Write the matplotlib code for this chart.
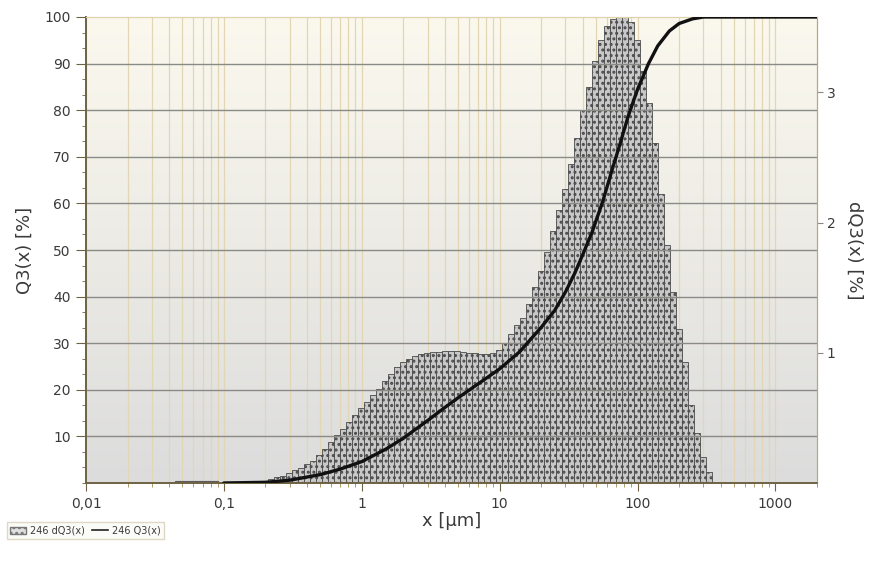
"""Particle size distribution: dQ3 histogram (right axis) and Q3 cumulative curve (left axis)."""

import matplotlib
matplotlib.use("Agg")
import matplotlib.pyplot as plt
import numpy as np
from matplotlib.lines import Line2D
from matplotlib.patches import Patch

plt.rcParams["font.family"] = ["DejaVu Sans"]
plt.rcParams["hatch.linewidth"] = 1.4

# histogram channels: first edge (µm), log width of one channel (decades)
FIRST_EDGE = 0.17
CHANNEL_DEC = 0.0435
# dQ3 per channel, read as % of plot height (100 = 3.58 % dQ3)
DQ3_PCT_OF_AXIS = [
    0.3, 0.5, 0.8, 1.2, 1.6, 2.1, 2.7, 3.3, 4.0, 4.8,
    6.0, 7.4, 8.8, 10.2, 11.6, 13.0, 14.5, 16.0, 17.4, 18.8,
    20.2, 21.8, 23.3, 24.8, 26.0, 26.7, 27.2, 27.6, 27.9, 28.1,
    28.2, 28.3, 28.3, 28.3, 28.2, 28.0, 27.8, 27.6, 27.6, 27.8,
    28.5, 30.0, 32.0, 33.8, 35.5, 38.5, 42.0, 45.5, 49.5, 54.0,
    58.5, 63.0, 68.5, 74.0, 80.0, 85.0, 90.5, 95.0, 98.0, 99.5,
    100.0, 100.0, 99.0, 95.0, 88.5, 81.5, 73.0, 62.0, 51.0, 41.0,
    33.0, 26.0, 16.7, 10.7, 5.6, 2.4,
]
DQ3_TOP = 3.58
# tiny fine-fraction channel
FINE_EDGES = [0.044, 0.09]
FINE_DQ3 = 0.012

# cumulative curve Q3(x)
Q3_X = [0.1, 0.2, 0.3, 0.5, 0.7, 1.0, 1.5, 2.0, 3.0, 4.0, 5.0, 7.0, 10, 14, 20, 25,
        30, 35, 40, 47, 56, 65, 75, 85, 100, 120, 140, 170, 200, 250, 300, 2000]
Q3_Y = [0, 0.15, 0.6, 1.8, 3.0, 4.6, 7.3, 9.6, 13.4, 16.2, 18.3, 21.3, 24.5, 28.2, 33.4, 37,
        41, 45, 49, 54, 60.5, 67, 73, 78.5, 84.5, 90, 93.8, 97, 98.6, 99.6, 100, 100]

X_TICKS = [0.01, 0.1, 1, 10, 100, 1000]
X_TICKLABELS = ["0,01", "0,1", "1", "10", "100", "1000"]
Q3_TICKS = [10, 20, 30, 40, 50, 60, 70, 80, 90, 100]
DQ3_TICKS = [1, 2, 3]

TEXT = "#3a3a3a"
AXC = "#6e6244"

fig = plt.figure(figsize=(8.73, 5.79), dpi=100)
axh = fig.add_axes([86 / 873, 1 - 483 / 579, 731 / 873, 466 / 579])
axh.set_xscale("log")
axh.set_xlim(0.01, 2000)
axh.set_ylim(0, DQ3_TOP)

# background gradient: cream on top to light grey at bottom
top = np.array([251, 249, 238]) / 255
bot = np.array([220, 220, 220]) / 255
t = np.linspace(0, 1, 256)[:, None]
grad = (top * (1 - t) + bot * t)[:, None, :].repeat(2, axis=1)
axh.imshow(grad, extent=[0, 1, 0, 1], transform=axh.transAxes, aspect="auto", zorder=0)

# vertical grid at every log position
for d in range(-2, 4):
    for m in range(1, 10):
        xv = m * 10.0 ** d
        if xv < 2000:
            axh.axvline(xv, color="#e3d6b4", lw=0.9, zorder=0.5)

edges = FIRST_EDGE * 10 ** (CHANNEL_DEC * np.arange(len(DQ3_PCT_OF_AXIS) + 1))
heights = np.array(DQ3_PCT_OF_AXIS) / 100 * DQ3_TOP
axh.bar(edges[:-1], heights, width=np.diff(edges), align="edge",
        facecolor="#c8c8c8", edgecolor="#4a4a4a", hatch="...", lw=0.6, zorder=2)
axh.bar(FINE_EDGES[0], FINE_DQ3, width=FINE_EDGES[1] - FINE_EDGES[0], align="edge",
        facecolor="#c8c8c8", edgecolor="#5a5a5a", lw=0.8, zorder=2)

axh.set_xticks(X_TICKS)
axh.set_xticklabels(X_TICKLABELS)
axh.xaxis.set_minor_locator(matplotlib.ticker.LogLocator(base=10, subs=np.arange(2, 10) * 1.0, numticks=20))
axh.xaxis.set_minor_formatter(matplotlib.ticker.NullFormatter())
axh.tick_params(axis="x", which="major", direction="out", length=6, color=AXC,
                labelcolor=TEXT, labelsize=10, pad=4)
axh.tick_params(axis="x", which="minor", direction="out", length=3, color="#a08a50")
axh.set_xlabel("x [µm]", fontsize=13, color=TEXT, labelpad=1)

# cumulative axis (drawn on top), then swap the sides
axq = axh.twinx()
axq.set_ylim(0, 100)
axh.yaxis.tick_right()
axh.yaxis.set_label_position("right")
axq.yaxis.tick_left()
axq.yaxis.set_label_position("left")

axh.set_yticks(DQ3_TICKS)
axh.tick_params(axis="y", direction="out", length=4, color="#888888", labelcolor=TEXT,
                labelsize=10, pad=3)
axh.set_ylabel("dQ3(x) [%]", rotation=270, labelpad=20, fontsize=13, color=TEXT)

axq.set_yticks(Q3_TICKS)
axq.yaxis.set_minor_locator(matplotlib.ticker.MultipleLocator(10 / 3))
axq.tick_params(axis="y", which="major", direction="out", length=7, color=AXC,
                labelcolor=TEXT, labelsize=10, pad=4)
axq.tick_params(axis="y", which="minor", direction="out", length=3, color=AXC)
axq.set_ylabel("Q3(x) [%]", fontsize=13, color=TEXT, labelpad=8)
for yv in Q3_TICKS[:-1]:
    axq.axhline(yv, color="#8a8a86", lw=1.0, zorder=1)
axq.plot(Q3_X, Q3_Y, color="#111111", lw=2.4, zorder=3, solid_capstyle="round")

for ax in (axh, axq):
    ax.spines["left"].set_color(AXC)
    ax.spines["bottom"].set_color(AXC)
    ax.spines["right"].set_color("#b8a878")
    ax.spines["top"].set_color("#e0d2ac")
    ax.spines["left"].set_linewidth(1.2)
    ax.spines["bottom"].set_linewidth(1.2)

# legend box below the chart
leg_handles = [Patch(facecolor="#e0e0e0", edgecolor="#777777", hatch="..."),
               Line2D([], [], color="#222222", lw=1.2)]
leg = fig.legend(leg_handles, ["246 dQ3(x)", "246 Q3(x)"], loc="lower left",
                 bbox_to_anchor=(2 / 873, 1 - 544 / 579), ncol=2, fontsize=7,
                 frameon=True, handlelength=1.6, handletextpad=0.4, columnspacing=0.8,
                 borderpad=0.35, fancybox=False)
leg.get_frame().set_edgecolor("#d8cfb8")
leg.get_frame().set_facecolor("#fbfaf5")
for txt in leg.get_texts():
    txt.set_color(TEXT)

fig.savefig("out.png", dpi=100)
